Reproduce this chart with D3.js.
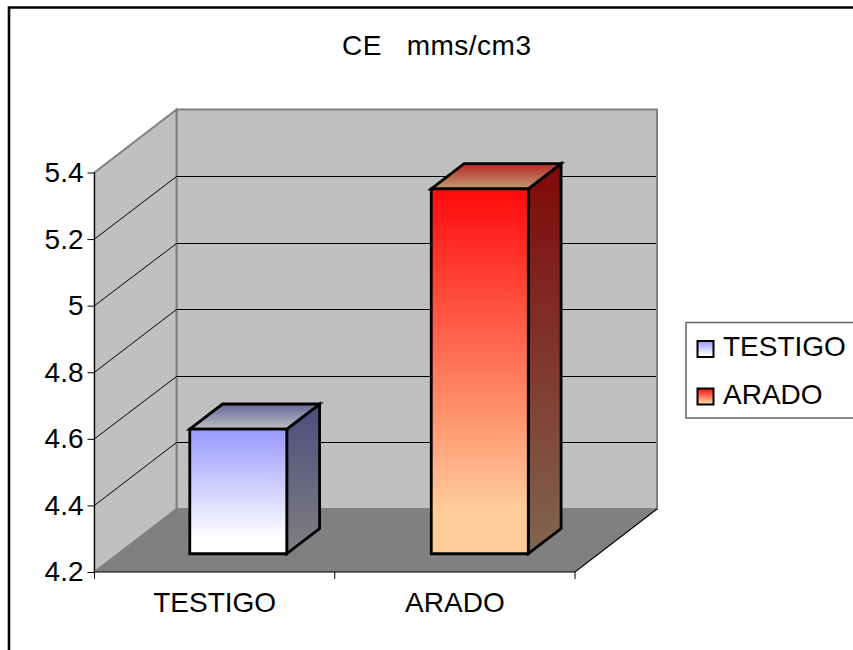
<!DOCTYPE html>
<html><head><meta charset="utf-8">
<script src="https://cdn.jsdelivr.net/npm/d3@7/dist/d3.min.js"></script>
<style>html,body{margin:0;padding:0;background:#fff}svg{display:block}text{font-family:"Liberation Sans",Arial,sans-serif;fill:#000}</style>
</head><body><svg id="c" width="853" height="650"></svg>
<script>
const categories = ["TESTIGO", "ARADO"];
const values = [4.574, 5.296];
const yTicks = [4.2, 4.4, 4.6, 4.8, 5.0, 5.2, 5.4];
const yLabels = ["4.2", "4.4", "4.6", "4.8", "5", "5.2", "5.4"];
const titleText = "CE\u00A0\u00A0\u00A0mms/cm3";
const frontColors = [["#9999ff", "#ffffff"], ["#ff0a0a", "#ffcc99"]];
const sideColors = [["#4c4c80", "#808080"], ["#800808", "#806650"]];
const topColors = [["#6666a0", "#c0c0c0"], ["#b82828", "#c09c70"]];

const svg = d3.select("#c");
const W = 853, H = 650;
const x = d3.scaleBand().domain(categories).range([94.5, 575]);
const xBar = d3.scaleBand().domain(categories).range([93.75, 576.75]);
const y = d3.scaleLinear().domain([4.2, 5.4]).range([572, 172.5]);
const DX = 82, DY = -63;
const f = 0.29, bf = 0.4;
const barW = 97;

const defs = svg.append("defs");
function grad(id, c, end) {
  const g = defs.append("linearGradient").attr("id", id).attr("x1", 0).attr("y1", 0).attr("x2", 0).attr("y2", 1);
  g.append("stop").attr("offset", "0%").attr("stop-color", c[0]);
  g.append("stop").attr("offset", end).attr("stop-color", c[1]);
}
categories.forEach((c, i) => {
  grad("front" + i, frontColors[i], "88%"); grad("side" + i, sideColors[i], "100%"); grad("top" + i, topColors[i], "100%");
});

const line = d3.line();
const x0 = x.range()[0], x1 = x.range()[1];
const yb = y(4.2), yt = y(5.4);

svg.append("path").attr("d", line([[9, H + 2], [9, 7.5], [W + 2, 7.5]]))
  .attr("fill", "none").attr("stroke", "#000").attr("stroke-width", 2.6);

svg.append("path").attr("d", line([[x0 + DX, yt + DY], [x1 + DX, yt + DY], [x1 + DX, yb + DY], [x0 + DX, yb + DY]]) + "Z")
  .attr("fill", "#c0c0c0").attr("stroke", "#808080").attr("stroke-width", 2);
svg.append("path").attr("d", line([[x0, yt], [x0 + DX, yt + DY], [x0 + DX, yb + DY], [x0, yb]]) + "Z")
  .attr("fill", "#c0c0c0").attr("stroke", "#808080").attr("stroke-width", 2);
svg.append("path").attr("d", line([[x0, yb], [x0 + DX, yb + DY], [x1 + DX, yb + DY], [x1, yb]]) + "Z")
  .attr("fill", "#808080");

yTicks.slice(1, -1).forEach(t => {
  const gy = Math.round(y(t) + DY) + 0.5;
  svg.append("path").attr("d", line([[x0, y(t)], [x0 + DX, gy], [x1 + DX - 1, gy]]))
    .attr("fill", "none").attr("stroke", "#000").attr("stroke-width", 1);
});
svg.append("path").attr("d", line([[x0, yb], [x1, yb], [x1 + DX, yb + DY]]))
  .attr("fill", "none").attr("stroke", "#000").attr("stroke-width", 1.2);

const yAxis = d3.axisLeft(y).tickValues(yTicks).tickSize(7).tickFormat((d, i) => yLabels[i]);
const ga = svg.append("g").attr("transform", `translate(${x0},0)`).call(yAxis);
ga.select(".domain").attr("stroke", "#000").attr("stroke-width", 1).attr("d", `M0,${yt}V${yb}`);
ga.selectAll("line").attr("stroke", "#000");
ga.selectAll("text").attr("x", -11).attr("font-size", 28).attr("font-family", '"Liberation Sans"');

const xAxis = d3.axisBottom(x).tickSize(0);
const gx = svg.append("g").attr("transform", `translate(0,${yb})`).call(xAxis);
gx.select(".domain").remove();
gx.selectAll("line").remove();
gx.selectAll("text").attr("y", 20).attr("dy", "0.71em").attr("font-size", 28).attr("font-family", '"Liberation Sans"');
[x0, x0 + x.step(), x1].forEach(px => {
  svg.append("line").attr("x1", px).attr("x2", px).attr("y1", yb).attr("y2", yb + 7).attr("stroke", "#000");
});

const sx = DX * f, sy = DY * f, bx = DX * bf, by = DY * bf;
const bars = svg.selectAll("g.bar").data(categories).join("g").attr("class", "bar");
bars.each(function (c, i) {
  const g = d3.select(this);
  const l = xBar(c) + xBar.bandwidth() / 2 - barW / 2 + sx, r = l + barW;
  const bot = yb + sy, top = y(values[i]) + sy;
  const add = (pts, id) => {
    g.append("path").attr("d", line(pts) + "Z").attr("fill", `url(#${id})`)
      .attr("stroke", "#000").attr("stroke-width", 2.8).attr("stroke-linejoin", "miter");
  };
  add([[r, bot], [r + bx, bot + by], [r + bx, top + by], [r, top]], "side" + i);
  add([[l, top], [l + bx, top + by], [r + bx, top + by], [r, top]], "top" + i);
  add([[l, bot], [l, top], [r, top], [r, bot]], "front" + i);
});

svg.append("text").attr("x", 342).attr("y", 55).attr("font-size", 28)
  .attr("textLength", 189).attr("lengthAdjust", "spacing").text(titleText);

svg.append("path").attr("d", line([[W + 2, 322.5], [686, 322.5], [686, 418], [W + 2, 418]]))
  .attr("fill", "#fff").attr("stroke", "#666").attr("stroke-width", 1.5);
const legBox = [341, 388.5];
const legBase = [356, 404];
categories.forEach((c, i) => {
  svg.append("rect").attr("x", 697.5).attr("y", legBox[i]).attr("width", 16).attr("height", 16)
    .attr("fill", `url(#front${i})`).attr("stroke", "#000").attr("stroke-width", 2);
  svg.append("text").attr("x", 723).attr("y", legBase[i]).attr("font-size", 28).text(c);
});
</script></body></html>
